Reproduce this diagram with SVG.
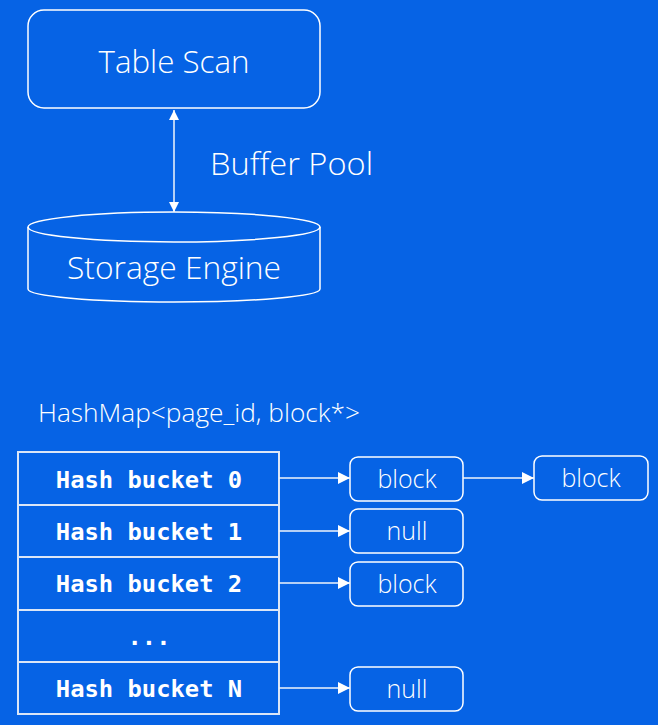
<svg xmlns="http://www.w3.org/2000/svg" width="658" height="725" viewBox="0 0 658 725">
<defs>
<marker id="ah" viewBox="0 0 10 10" refX="10" refY="5" markerWidth="10" markerHeight="10" markerUnits="userSpaceOnUse" orient="auto-start-reverse">
<path d="M0,0 L10,5 L0,10 z" fill="#ffffff"/>
</marker>
<marker id="ah2" viewBox="0 0 10 10" refX="10" refY="5" markerWidth="12" markerHeight="12" markerUnits="userSpaceOnUse" orient="auto">
<path d="M0,0 L10,5 L0,10 z" fill="#ffffff"/>
</marker>
</defs>
<style>
.ln{fill:none;stroke:#ffffff;stroke-width:1.5}
.tb{fill:none;stroke:#dbe6f7;stroke-width:2}
.t{font-family:"Open Sans","Noto Sans","Liberation Sans",sans-serif;fill:#ffffff;text-anchor:middle;font-weight:350}
.m{font-family:"DejaVu Sans Mono","Liberation Mono",monospace;font-weight:bold;font-size:23.8px;fill:#ffffff;text-anchor:middle}
.c{stroke:#f0f4fb;stroke-width:1.5;fill:none}
</style>
<rect width="658" height="725" fill="#0663e5"/>
<g id="table-scan">
<rect class="ln" x="28" y="10" width="292" height="98" rx="16"/>
<text class="t" x="174" y="73" font-size="31" textLength="151" lengthAdjust="spacingAndGlyphs">Table Scan</text>
</g>
<g id="storage-engine">
<path class="ln" d="M28,227 L28,289 A146,13 0 0 0 320,289 L320,227"/>
<ellipse class="ln" cx="174" cy="227" rx="146" ry="15"/>
<text class="t" x="174" y="279" font-size="30.5" textLength="214" lengthAdjust="spacingAndGlyphs">Storage Engine</text>
</g>
<g id="buffer-pool-label">
<text class="t" x="210" y="175" font-size="31" style="text-anchor:start" textLength="163" lengthAdjust="spacingAndGlyphs">Buffer Pool</text>
</g>
<g id="hashmap-label">
<text class="t" x="38" y="422" font-size="25" style="text-anchor:start" textLength="322" lengthAdjust="spacingAndGlyphs">HashMap&lt;page_id, block*&gt;</text>
</g>
<g id="hash-table">
<rect class="tb" x="18" y="452" width="261" height="262"/>
<line class="tb" x1="18" y1="505" x2="279" y2="505"/>
<line class="tb" x1="18" y1="557" x2="279" y2="557"/>
<line class="tb" x1="18" y1="610" x2="279" y2="610"/>
<line class="tb" x1="18" y1="662" x2="279" y2="662"/>
<text class="m" x="149" y="488">Hash bucket 0</text>
<text class="m" x="149" y="540">Hash bucket 1</text>
<text class="m" x="149" y="592">Hash bucket 2</text>
<text class="m" x="149" y="645">...</text>
<text class="m" x="149" y="697">Hash bucket N</text>
</g>
<g id="block-0a">
<rect class="ln" x="350" y="457" width="113" height="44" rx="8"/>
<text class="t" x="407" y="488" font-size="25">block</text>
</g>
<g id="block-0b">
<rect class="ln" x="534" y="456" width="114" height="44" rx="8"/>
<text class="t" x="591" y="487" font-size="25">block</text>
</g>
<g id="null-1">
<rect class="ln" x="350" y="509" width="113" height="44" rx="8"/>
<text class="t" x="407" y="540" font-size="25">null</text>
</g>
<g id="block-2">
<rect class="ln" x="350" y="562" width="113" height="44" rx="8"/>
<text class="t" x="407" y="593" font-size="25">block</text>
</g>
<g id="null-n">
<rect class="ln" x="350" y="667" width="113" height="44" rx="8"/>
<text class="t" x="407" y="698" font-size="25">null</text>
</g>
<g id="connectors">
<line class="c" x1="174" y1="110" x2="174" y2="212" marker-start="url(#ah)" marker-end="url(#ah)"/>
<line class="c" x1="279" y1="478" x2="350" y2="478" marker-end="url(#ah2)"/>
<line class="c" x1="463" y1="478" x2="534" y2="478" marker-end="url(#ah2)"/>
<line class="c" x1="279" y1="531" x2="350" y2="531" marker-end="url(#ah2)"/>
<line class="c" x1="279" y1="583" x2="350" y2="583" marker-end="url(#ah2)"/>
<line class="c" x1="279" y1="688" x2="350" y2="688" marker-end="url(#ah2)"/>
</g>
</svg>
